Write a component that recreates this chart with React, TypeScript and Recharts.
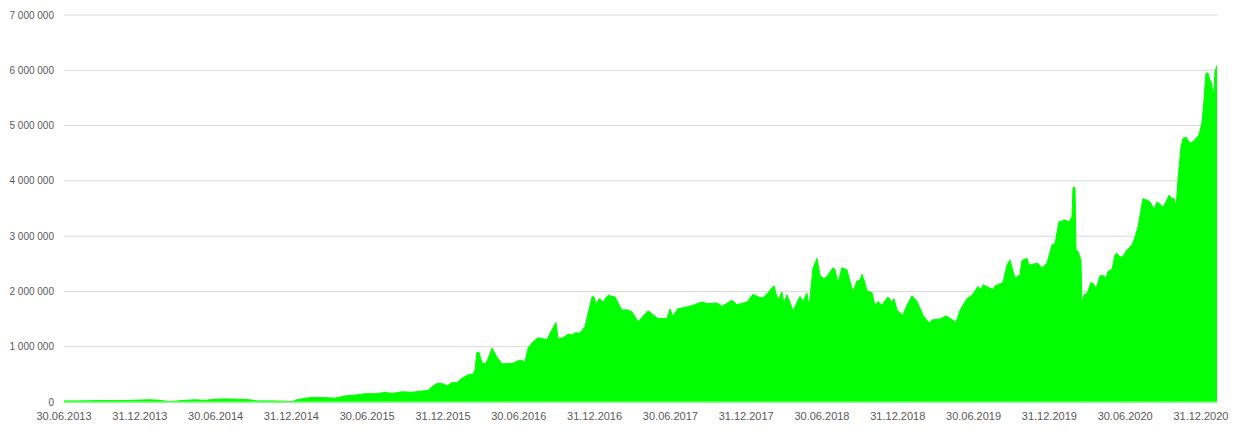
import React from 'react';
import { AreaChart, Area, XAxis, YAxis, CartesianGrid } from 'recharts';

// months since 30.06.2013
const monthOffsets = [
  0, 1.27, 2.85, 4.43, 6.02, 6.81, 7.6, 8.23, 8.79, 9.58, 10.37, 11.16, 11.95, 12.74, 13.93, 14.72,
  15.28, 16.31, 17.34, 18.05, 18.44, 19.47, 20.5, 21.45, 22.24, 23.04, 23.83, 24.78, 25.41, 25.96,
  26.76, 27.55, 28.34, 28.81, 29.13, 29.53, 29.92, 30.32, 30.71, 31.11, 31.5, 31.98, 32.38, 32.53,
  32.69, 32.85, 33.09, 33.33, 33.56, 33.88, 34.28, 34.67, 35.54, 36.1, 36.49, 36.73, 37.05, 37.52,
  38.23, 38.47, 38.95, 39.1, 39.5, 39.9, 40.21, 40.45, 40.85, 41.24, 41.48, 41.8, 41.95, 42.11,
  42.35, 42.67, 43.06, 43.62, 44.17, 44.57, 44.96, 45.44, 46.23, 46.62, 47.02, 47.73, 47.97, 48.21,
  48.6, 49.16, 49.79, 50.5, 50.9, 51.69, 52.09, 52.88, 53.27, 54.07, 54.54, 54.94, 55.33, 55.73,
  56.2, 56.52, 56.83, 56.99, 57.23, 57.71, 58.26, 58.5, 58.81, 58.97, 59.29, 59.61, 59.84, 60.16,
  60.4, 60.87, 61.03, 61.27, 61.58, 61.98, 62.22, 62.46, 62.77, 63.01, 63.17, 63.41, 63.56, 63.96,
  64.2, 64.43, 64.75, 64.99, 65.23, 65.54, 65.7, 65.94, 66.41, 66.73, 67.13, 67.52, 68.0, 68.47,
  68.79, 69.34, 69.82, 70.29, 70.61, 70.93, 71.48, 71.88, 72.35, 72.59, 72.75, 73.3, 73.54, 73.7,
  74.33, 74.65, 74.88, 75.28, 75.67, 75.83, 76.23, 76.39, 77.1, 77.42, 77.81, 78.21, 78.45, 78.76,
  79.24, 79.55, 79.79, 79.87, 80.03, 80.11, 80.27, 80.5, 80.58, 80.74, 80.98, 81.29, 81.45, 81.69,
  82.01, 82.25, 82.48, 82.64, 82.96, 83.19, 83.35, 83.59, 83.83, 84.14, 84.54, 84.78, 85.02, 85.41,
  85.73, 85.97, 86.29, 86.52, 86.84, 87.0, 87.23, 87.47, 87.71, 87.87, 88.03, 88.18, 88.42, 88.58,
  88.82, 89.13, 89.37, 89.69, 89.84, 90.08, 90.24, 90.4, 90.56, 90.71, 90.79, 90.95, 91.03, 91.11,
  91.27,
];

// values in thousands
const valuesK = [
  20, 20, 25, 25, 35, 40, 30, 10, 15, 30, 40, 30, 50, 55, 50, 40,
  20, 20, 15, 5, 40, 80, 80, 70, 110, 125, 150, 150, 175, 155,
  185, 175, 200, 210, 275, 335, 335, 295, 350, 350, 430, 490, 505, 580,
  900, 900, 710, 690, 775, 975, 810, 690, 700, 760, 725, 970, 1070, 1160,
  1130, 1240, 1440, 1150, 1160, 1230, 1210, 1250, 1250, 1360, 1600, 1900, 1910, 1750,
  1870, 1810, 1930, 1900, 1660, 1670, 1630, 1450, 1650, 1580, 1510, 1510, 1680, 1550,
  1690, 1710, 1750, 1810, 1780, 1790, 1730, 1840, 1760, 1810, 1950, 1900, 1880, 1980,
  2100, 1840, 1990, 1780, 1940, 1650, 1910, 1820, 1970, 1700, 2420, 2600, 2290, 2230,
  2270, 2430, 2400, 2150, 2430, 2390, 2180, 1990, 2190, 2200, 2310, 2150, 2010, 1980,
  1740, 1820, 1750, 1830, 1900, 1810, 1870, 1660, 1570, 1750, 1920, 1820, 1570, 1430,
  1490, 1500, 1560, 1490, 1440, 1660, 1870, 1930, 2090, 2030, 2120, 2060, 2030, 2100,
  2160, 2480, 2570, 2240, 2300, 2560, 2600, 2480, 2510, 2420, 2510, 2840, 2870, 3260,
  3290, 3260, 3350, 3880, 3880, 2760, 2720, 2570, 1750, 1940, 1960, 2160, 2150, 2050,
  2280, 2290, 2240, 2360, 2400, 2660, 2690, 2620, 2630, 2750, 2840, 2980, 3170, 3680,
  3650, 3620, 3480, 3620, 3560, 3520, 3620, 3740, 3680, 3680, 3530, 4010, 4620, 4770,
  4790, 4680, 4710, 4790, 4830, 5050, 5460, 5950, 5950, 5820, 5800, 5610, 5620, 5980,
  6090,
];

const tickMonths = [0, 6, 12, 18, 24, 30, 36, 42, 48, 54, 60, 66, 72, 78, 84, 90];
const tickLabels = [
  '30.06.2013', '31.12.2013', '30.06.2014', '31.12.2014', '30.06.2015', '31.12.2015',
  '30.06.2016', '31.12.2016', '30.06.2017', '31.12.2017', '30.06.2018', '31.12.2018',
  '30.06.2019', '31.12.2019', '30.06.2020', '31.12.2020',
];
const yTicks = [0, 1000000, 2000000, 3000000, 4000000, 5000000, 6000000, 7000000];

const data = monthOffsets.map((m, i) => ({ m, v: valuesK[i] * 1000 }));

const fmt = (v: number) => String(v).replace(/\B(?=(\d{3})+(?!\d))/g, ' ');

const YTick = (props: any) => {
  const { x, y, payload } = props;
  return (
    <text
      x={x}
      y={y}
      dy="0.35em"
      textAnchor="end"
      fill="#595959"
      fontSize={10}
      fontFamily="Liberation Sans, Arial, sans-serif"
    >
      {fmt(payload.value)}
    </text>
  );
};

export default function App() {
  return (
    <AreaChart
      width={1236}
      height={428}
      data={data}
      margin={{ top: 7, right: 27, bottom: 4, left: 0 }}
      style={{ fontFamily: 'Liberation Sans, Arial, sans-serif' }}
    >
      <CartesianGrid horizontal vertical={false} stroke="#d9d9d9" />
      <XAxis
        dataKey="m"
        type="number"
        domain={[0, 91.27]}
        ticks={tickMonths}
        interval={0}
        tickFormatter={(v: number) => tickLabels[tickMonths.indexOf(v)] ?? ''}
        tickLine={false}
        tickSize={6}
        tickMargin={4}
        height={30}
        axisLine={{ stroke: '#66ff66', strokeWidth: 1.5 }}
        tick={{ fill: '#595959', fontSize: 11 }}
        allowDataOverflow
      />
      <YAxis
        width={56}
        domain={[0, 7000000]}
        ticks={yTicks}
        interval={0}
        tickLine={false}
        axisLine={false}
        tickSize={6}
        tickMargin={4}
        tick={<YTick />}
      />
      <Area
        type="linear"
        dataKey="v"
        stroke="#00ff00"
        strokeWidth={1}
        fill="#00ff00"
        fillOpacity={1}
        isAnimationActive={false}
        dot={false}
        activeDot={false}
      />
    </AreaChart>
  );
}
